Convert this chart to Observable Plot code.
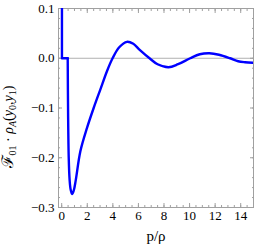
<!DOCTYPE html>
<html><head><meta charset="utf-8">
<script src="https://cdn.jsdelivr.net/npm/d3@7"></script>
<script src="https://cdn.jsdelivr.net/npm/@observablehq/plot@0.6"></script>
<style>body{margin:0;background:#fff} svg{display:block}</style>
</head><body><div id="chart"></div>
<script>
// Step part at the origin
const stepX = [0.02, 0.02, 0.47];
const stepY = [0.1, 0.0, 0.0];
// Smooth oscillating part
const curveX = [0.47, 0.50, 0.55, 0.62, 0.70, 0.81, 0.94, 1.10, 1.46, 1.98, 2.50, 3.02, 3.54, 3.98, 4.5, 5.1, 5.6, 6.1, 6.87, 7.5, 8.35, 9.1, 10.05, 10.8, 11.55, 12.3, 13.17, 13.8, 14.34, 14.94];
const curveY = [0.0, -0.11, -0.20, -0.245, -0.264, -0.273, -0.266, -0.245, -0.187, -0.140, -0.100, -0.063, -0.026, 0.0, 0.022, 0.033, 0.029, 0.017, 0.0, -0.012, -0.018, -0.012, 0.0, 0.008, 0.010, 0.007, 0.0, -0.006, -0.008, -0.009];
const xMajor = [0, 2, 4, 6, 8, 10, 12, 14];
const yMajor = [-0.3, -0.2, -0.1, 0.0, 0.1];
const xMinor = d3.range(0, 15.001, 0.5);
const yMinor = d3.range(-0.3, 0.1001, 0.02).map(v => +v.toFixed(3));
const xLabel = "p/ρ";

const step = stepX.map((x, i) => ({x, y: stepY[i]}));
const curve = curveX.map((x, i) => ({x, y: curveY[i]}));
const frameColor = "#a0a0a0";
const serif = "'Liberation Serif', 'DejaVu Serif', serif";
const fmtY = d => d === 0 ? "0.0" : d3.format(".1f")(d).replace("-", "\u2212");

const plot = Plot.plot({
  width: 256, height: 248,
  marginLeft: 58, marginRight: 3, marginTop: 8, marginBottom: 41,
  style: {fontSize: "12.5px", color: "#000", background: "#fff"},
  x: {domain: [-0.25, 15]},
  y: {domain: [-0.3, 0.1]},
  marks: [
    Plot.ruleY([0], {stroke: "#b0b0b0", strokeWidth: 1}),
    Plot.axisX(xMinor, {anchor: "bottom", tickSize: -2, stroke: frameColor, text: null, label: null}),
    Plot.axisX(xMinor, {anchor: "top", tickSize: -2, stroke: frameColor, text: null, label: null}),
    Plot.axisY(yMinor, {anchor: "left", tickSize: -2, stroke: frameColor, text: null, label: null}),
    Plot.axisY(yMinor, {anchor: "right", tickSize: -2, stroke: frameColor, text: null, label: null}),
    Plot.axisX(xMajor, {anchor: "bottom", tickSize: -4, stroke: frameColor, text: null, label: null}),
    Plot.axisX(xMajor, {anchor: "top", tickSize: -4, stroke: frameColor, text: null, label: null}),
    Plot.axisY(yMajor, {anchor: "left", tickSize: -4, stroke: frameColor, text: null, label: null}),
    Plot.axisY(yMajor, {anchor: "right", tickSize: -4, stroke: frameColor, text: null, label: null}),
    Plot.axisX(xMajor, {anchor: "bottom", tickSize: 0, tickPadding: 3, label: null, fill: "#000", fontSize: 13, tickFormat: d => String(d)}),
    Plot.axisY(yMajor, {anchor: "left", tickSize: 0, tickPadding: 4, label: null, fill: "#000", fontSize: 13, tickFormat: fmtY}),
    Plot.frame({stroke: frameColor, strokeWidth: 1}),
    Plot.line(step, {x: "x", y: "y", stroke: "#0000ff", strokeWidth: 2.4, clip: true}),
    Plot.line(curve, {x: "x", y: "y", stroke: "#0000ff", strokeWidth: 2.4, curve: "catmull-rom", clip: true}),
    Plot.text([xLabel], {text: d => d, frameAnchor: "bottom", dy: 33, fontSize: 15, fill: "#000"})
  ]
});

const svg = d3.select(plot);
const t = svg.append("text")
  .attr("transform", "translate(13,127) rotate(-90)")
  .attr("text-anchor", "middle")
  .attr("font-size", 14)
  .attr("fill", "#000");
t.append("tspan").attr("font-size", 16).text("ℱ");
t.append("tspan").attr("dy", 3).attr("font-size", 10).text("01");
t.append("tspan").attr("dy", -3).text(" · ");
t.append("tspan").attr("font-style", "italic").text("ρ");
t.append("tspan").attr("dy", 3).attr("font-size", 10).attr("font-style", "italic").text("A");
t.append("tspan").attr("dy", -3).text("(");
t.append("tspan").attr("font-style", "italic").text("y");
t.append("tspan").attr("dy", 3).attr("font-size", 10).text("0");
t.append("tspan").attr("dy", -3).text(",");
t.append("tspan").attr("font-style", "italic").text("y");
t.append("tspan").attr("dy", 3).attr("font-size", 10).text("1");
t.append("tspan").attr("dy", -3).text(")");

svg.style("font-family", serif);
svg.selectAll("g, text").attr("font-family", serif).style("font-family", serif);

document.getElementById("chart").appendChild(plot);
</script>
</body></html>
